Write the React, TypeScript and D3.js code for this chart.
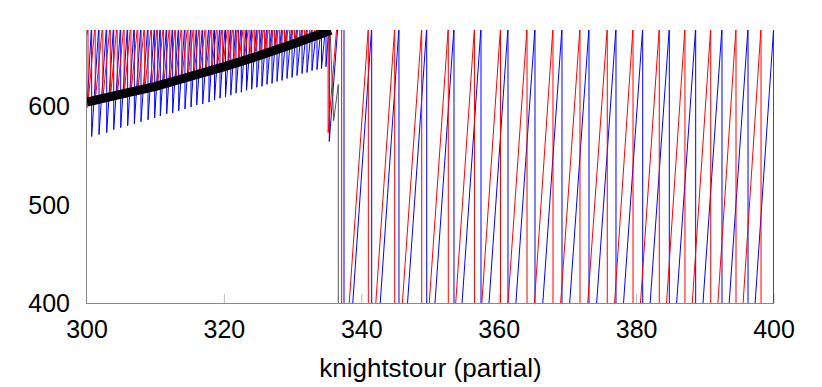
import React from "react";
import * as d3 from "d3";

// axis ticks
const xTicks = [300, 320, 340, 360, 380, 400];
const yTicks = [400, 500, 600];
const xLabel = "knightstour (partial)";

// sawtooth series: start point, then drops as [x, value before drop, value after drop]
const redStart: [number, number] = [300, 672];
const redDrops: [number, number, number][] = [
  [300.15, 685, 603], [301.2, 685, 605], [302.3, 685, 607], [303.4, 685, 608],
  [304.4, 685, 610], [305.4, 685, 612], [306.4, 685, 613], [307.4, 685, 615],
  [308.4, 685, 616], [309.4, 685, 618], [310.25, 685, 619], [311.15, 685, 621],
  [312.05, 685, 623], [312.9, 685, 625], [313.8, 685, 627], [314.7, 685, 628],
  [315.55, 685, 630], [316.4, 685, 632], [317.3, 685, 634], [318.15, 685, 635],
  [318.95, 685, 637], [319.75, 685, 638], [320.55, 685, 640], [321.3, 685, 642],
  [322.05, 685, 643], [322.85, 685, 645], [323.6, 685, 647], [324.35, 685, 649],
  [325.1, 685, 650], [325.85, 685, 652], [326.55, 685, 654], [327.3, 685, 656],
  [328.0, 685, 657], [328.75, 685, 659], [329.5, 685, 661], [330.2, 685, 662],
  [330.95, 685, 664], [331.65, 685, 666], [332.4, 685, 668], [333.1, 685, 670],
  [333.8, 685, 672], [334.45, 685, 673], [335.1, 685, 573], [336.35, 680, 680],
  [337.07, 690, 289], [340.95, 680, 289], [344.79, 680, 289], [348.72, 680, 289],
  [352.59, 680, 289], [356.4, 680, 289], [360.19, 680, 289], [364.05, 680, 289],
  [367.83, 680, 289], [371.76, 680, 289], [375.73, 680, 289], [379.48, 680, 289],
  [383.3, 680, 289], [387.04, 680, 289], [390.79, 680, 289], [394.47, 680, 289],
  [398.11, 680, 289],
];

const blueStart: [number, number] = [300, 598];
const blueDrops: [number, number, number][] = [
  [300.68, 685, 569], [301.75, 685, 571], [302.87, 685, 573], [303.89, 685, 576],
  [304.91, 685, 578], [305.92, 685, 580], [306.89, 685, 582], [307.86, 685, 584],
  [308.88, 685, 586], [309.85, 685, 588], [310.67, 685, 590], [311.6, 685, 592],
  [312.47, 685, 593], [313.35, 685, 595], [314.26, 685, 597], [315.14, 685, 599],
  [315.97, 685, 601], [316.84, 685, 602], [317.76, 685, 604], [318.56, 685, 606],
  [319.36, 685, 608], [320.16, 685, 609], [320.93, 685, 611], [321.69, 685, 613],
  [322.46, 685, 614], [323.22, 685, 616], [323.97, 685, 617], [324.72, 685, 619],
  [325.46, 685, 620], [326.2, 685, 622], [326.93, 685, 623], [327.66, 685, 625],
  [328.38, 685, 626], [329.11, 685, 628], [329.84, 685, 629], [330.57, 685, 631],
  [331.3, 685, 633], [332.02, 685, 634], [332.75, 685, 636], [333.48, 685, 637],
  [334.13, 685, 638], [334.79, 685, 640], [335.27, 685, 564], [336.5, 680, 680],
  [337.41, 690, 270], [341.44, 680, 272], [345.41, 680, 275], [349.45, 680, 278],
  [353.42, 680, 280], [357.35, 680, 282], [361.28, 680, 284], [365.21, 680, 286],
  [369.14, 680, 288], [373.07, 680, 289], [377.0, 680, 290], [380.89, 680, 291],
  [384.76, 680, 292], [388.6, 680, 292], [392.43, 680, 293], [396.22, 680, 293],
  [399.96, 680, 293],
];

// the black series: thick band, then a thin tail
const blackBand: [number, number][] = [
  [300, 604], [305, 612], [310, 620], [315, 630], [320, 640], [325, 651], [330, 663], [335.5, 677],
];
const blackTail: [number, number][] = [
  [335.4, 675], [335.9, 585], [336.58, 622], [336.58, 380],
];

function sawtooth(start: [number, number], drops: [number, number, number][]) {
  const pts: [number, number][] = [start];
  drops.forEach(([x, hi, lo]) => {
    pts.push([x, hi]);
    pts.push([x, lo]);
  });
  return pts;
}

export default function App() {
  const width = 822;
  const height = 387;
  const left = 87, right = 774, top = 30, bottom = 303;

  const x = d3.scaleLinear().domain([300, 400]).range([left, right]);
  const y = d3.scaleLinear().domain([400, 677.2]).range([bottom, top]);

  const line = d3.line<[number, number]>().x(d => x(d[0])).y(d => y(d[1]));

  const font = "'Liberation Sans', Arial, Helvetica, sans-serif";

  return (
    <svg width={width} height={height} style={{ position: "absolute", left: 0, top: 0, background: "#fff" }}>
      <defs>
        <clipPath id="plot">
          <rect x={left} y={top} width={right - left} height={bottom - top} />
        </clipPath>
      </defs>

      {/* ticks on the x axis */}
      {xTicks.slice(1).map(t => (
        <line key={t} x1={x(t)} x2={x(t)} y1={bottom} y2={bottom - 9} stroke="#bbb" strokeWidth={1} />
      ))}

      <g clipPath="url(#plot)" fill="none">
        <path d={line(sawtooth(blueStart, blueDrops)) || ""} stroke="#0000ff" strokeWidth={1} />
        <path d={line(sawtooth(redStart, redDrops)) || ""} stroke="#ff0000" strokeWidth={1} />
        <path d={line(blackTail) || ""} stroke="#555" strokeWidth={1} />
        <path d={line(blackBand) || ""} stroke="#000" strokeWidth={9} />
      </g>

      {/* axes */}
      <line x1={left} x2={right} y1={bottom + 0.5} y2={bottom + 0.5} stroke="#888" strokeWidth={1} />
      <line x1={left - 0.5} x2={left - 0.5} y1={top} y2={bottom + 1} stroke="#888" strokeWidth={1} />

      {yTicks.map(t => (
        <text key={t} x={70} y={y(t) + 9} textAnchor="end" fontFamily={font} fontSize={25} fill="#000">
          {t}
        </text>
      ))}
      {xTicks.map(t => (
        <text key={t} x={x(t)} y={338} textAnchor="middle" fontFamily={font} fontSize={25} fill="#000">
          {t}
        </text>
      ))}
      <text x={(left + right) / 2} y={377} textAnchor="middle" fontFamily={font} fontSize={26} fill="#000">
        {xLabel}
      </text>
    </svg>
  );
}
